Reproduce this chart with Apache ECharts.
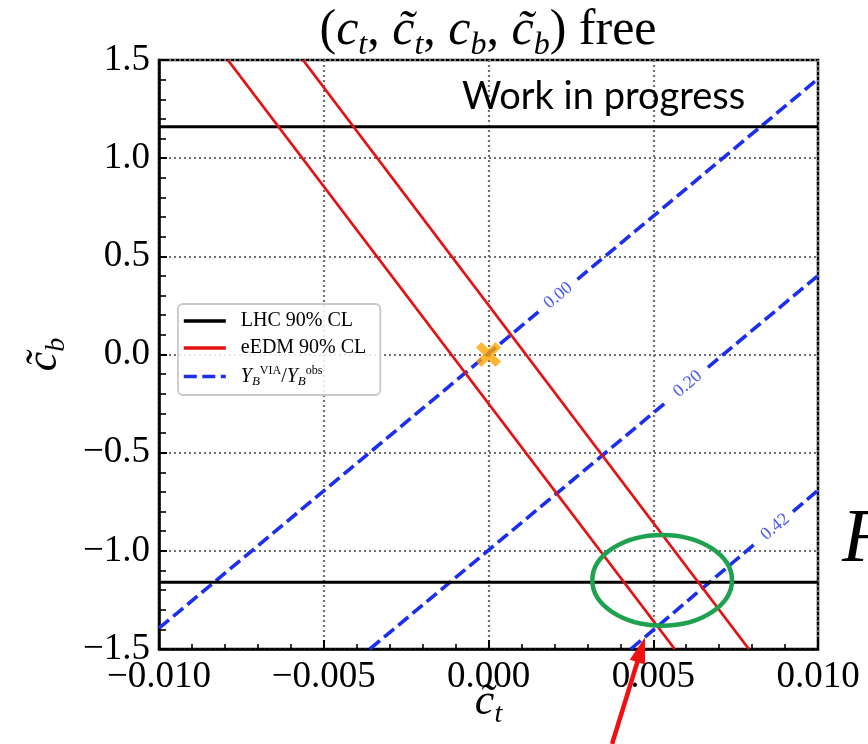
<!DOCTYPE html>
<html><head><meta charset="utf-8">
<script src="https://cdn.jsdelivr.net/npm/echarts@6/dist/echarts.min.js"></script>
<style>html,body{margin:0;padding:0;background:#fff}#c{width:868px;height:744px}</style>
</head><body><div id="c"></div>
<script>
// ---- data ----
const xRange = [-0.01, 0.01];
const yRange = [-1.5, 1.5];
const xInterval = 0.005;
const yInterval = 0.5;
const lhcLevels = [1.16, -1.16];
const eedmLine1 = [[-0.00791, 1.5], [0.00565, -1.5]];
const eedmLine2 = [[-0.00563, 1.5], [0.00790, -1.5]];
// Y_B ratio contours, each split where its in-line label sits
const contour000 = [[[-0.01, -1.394], [0.00155, 0.222]], [[0.0027, 0.383], [0.01, 1.404]]];
const contour020 = [[[-0.0036, -1.5], [0.00545, -0.235]], [[0.00666, -0.065], [0.01, 0.402]]];
const contour042 = [[[0.00432, -1.5], [0.00815, -0.955]], [[0.00924, -0.800], [0.01, -0.692]]];
const contourLabels = [[0.00212, 0.30, '0.00'], [0.00605, -0.15, '0.20'], [0.0087, -0.878, '0.42']];
const smPoint = [[0, 0]];
const ellipseCenter = [0.00527, -1.15];
const ellipseRadii = [0.00212, 0.231];
const arrowTail = [0.00375, -1.984];
const arrowTip = [0.00475, -1.44];
const legendNames = ['LHC 90% CL', 'eEDM 90% CL', 'YB'];

const RED = '#e41212', BLUE = '#1c2ef0', SERIF = 'Liberation Serif';
const X_PATH = 'path://M0,2.2 L2.2,0 L5,2.8 L7.8,0 L10,2.2 L7.2,5 L10,7.8 L7.8,10 L5,7.2 L2.2,10 L0,7.8 L2.8,5 Z';

function fmt(v, d) {
  if (Math.abs(v) < 1e-12) v = 0;
  return (v < 0 ? '\u2212' : '') + Math.abs(v).toFixed(d);
}

const series = [];
lhcLevels.forEach(v => series.push({
  type: 'line', name: legendNames[0], data: [[xRange[0], v], [xRange[1], v]], symbol: 'none',
  lineStyle: { color: '#000', width: 3 }, itemStyle: { color: '#000' }, z: 3
}));
[eedmLine1, eedmLine2].forEach(seg => series.push({
  type: 'line', name: legendNames[1], data: seg, symbol: 'none',
  lineStyle: { color: RED, width: 2.8 }, itemStyle: { color: RED }, z: 4
}));
[contour000, contour020, contour042].forEach(c => c.forEach(seg => series.push({
  type: 'line', name: legendNames[2], data: seg, symbol: 'none',
  lineStyle: { color: BLUE, width: 3.6, type: [13, 5.5] }, itemStyle: { color: BLUE }, z: 2
})));
series.push({
  type: 'scatter', data: contourLabels, symbolSize: 0, silent: true, z: 5,
  label: { show: true, position: 'inside', formatter: p => p.value[2], rotate: 40,
    color: BLUE, fontSize: 18, fontFamily: SERIF }
});
series.push({
  type: 'scatter', data: smPoint, symbol: X_PATH, symbolSize: 25, z: 6,
  itemStyle: { color: '#ffa500' }
});

const nameRich = {
  i: { fontSize: 44, fontFamily: SERIF, fontStyle: 'italic', color: '#000', lineHeight: 54 },
  s: { fontSize: 28, fontFamily: SERIF, fontStyle: 'italic', color: '#000', lineHeight: 28, verticalAlign: 'bottom' }
};

const chart = echarts.init(document.getElementById('c'), null, { renderer: 'canvas' });
const option = {
  animation: false,
  backgroundColor: '#fff',
  grid: { left: 159, top: 60, width: 659, height: 589, show: true, borderColor: '#000', borderWidth: 2.5,
    containLabel: false, outerBoundsMode: 'none' },
  xAxis: {
    type: 'value', min: xRange[0], max: xRange[1], interval: xInterval,
    axisLine: { show: true, onZero: false, lineStyle: { color: '#000', width: 2.5 } },
    axisTick: { show: true, inside: true, length: 9, lineStyle: { color: '#000', width: 2 } },
    minorTick: { show: true, splitNumber: 5, length: 5, lineStyle: { color: '#000', width: 1.6 } },
    splitLine: { show: true, lineStyle: { color: '#707070', width: 2.2, type: [2, 3] } },
    axisLabel: { formatter: v => fmt(v, 3), fontSize: 37, fontFamily: SERIF, color: '#000', margin: 10,
      showMinLabel: true, showMaxLabel: true },
    name: '{i|c\u0303}{s|t}', nameLocation: 'middle', nameGap: 26, nameMoveOverlap: false,
    nameTextStyle: { rich: nameRich }
  },
  yAxis: {
    type: 'value', min: yRange[0], max: yRange[1], interval: yInterval,
    axisLine: { show: true, onZero: false, lineStyle: { color: '#000', width: 2.5 } },
    axisTick: { show: true, inside: true, length: 8, lineStyle: { color: '#000', width: 2 } },
    minorTick: { show: true, splitNumber: 5, length: 7, lineStyle: { color: '#000', width: 1.6 } },
    splitLine: { show: true, lineStyle: { color: '#707070', width: 2.2, type: [2, 3] } },
    axisLabel: { formatter: v => fmt(v, 1), fontSize: 37, fontFamily: SERIF, color: '#000', margin: 9,
      showMinLabel: true, showMaxLabel: true },
    name: '{i|c\u0303}{s|b}', nameLocation: 'middle', nameGap: 88, nameRotate: 90, nameMoveOverlap: false,
    nameTextStyle: { rich: nameRich }
  },
  legend: {
    data: legendNames, orient: 'vertical', left: 178, top: 304, selectedMode: false,
    itemWidth: 42, itemHeight: 14, itemGap: 7, padding: [7, 14, 7, 4],
    itemStyle: { opacity: 0 }, lineStyle: { width: 3.6 },
    borderColor: '#c8c8c8', borderWidth: 1.8, borderRadius: 5, backgroundColor: 'rgba(255,255,255,0.85)',
    formatter: n => n === 'YB' ? '{it|Y}{sub|B}{sup|VIA}{n|/}{it|Y}{sub|B}{sup|obs}' : '{n|' + n + '}',
    textStyle: {
      padding: [0, 0, 0, 10],
      rich: {
        n: { fontSize: 20, fontFamily: SERIF, color: '#000', lineHeight: 23 },
        it: { fontSize: 20, fontFamily: SERIF, fontStyle: 'italic', color: '#000', lineHeight: 23 },
        sub: { fontSize: 13, fontFamily: SERIF, fontStyle: 'italic', color: '#000', lineHeight: 12, verticalAlign: 'bottom' },
        sup: { fontSize: 12, fontFamily: SERIF, color: '#000', lineHeight: 12, verticalAlign: 'top' }
      }
    }
  },
  series: series
};
chart.setOption(option);

// annotations placed through the grid's coordinate system
const P = v => chart.convertToPixel({ gridIndex: 0 }, v);
const c0 = P(ellipseCenter);
const cR = P([ellipseCenter[0] + ellipseRadii[0], ellipseCenter[1] + ellipseRadii[1]]);
const tip = P(arrowTip), tail = P(arrowTail);
const dx = tip[0] - tail[0], dy = tip[1] - tail[1], L = Math.hypot(dx, dy);
const ux = dx / L, uy = dy / L, headLen = 26, headHalf = 8;
const bx = tip[0] - ux * headLen, by = tip[1] - uy * headLen;

const titleRich = {
  p: { fontSize: 50, fontFamily: SERIF, fill: '#000', color: '#000', lineHeight: 62 },
  i: { fontSize: 50, fontFamily: SERIF, fontStyle: 'italic', fill: '#000', color: '#000', lineHeight: 62 },
  s: { fontSize: 32, fontFamily: SERIF, fontStyle: 'italic', fill: '#000', color: '#000', lineHeight: 32, verticalAlign: 'bottom' }
};

chart.setOption({
  graphic: [
    { type: 'text', x: 488, y: 31, z: 10,
      style: { text: '{p|(}{i|c}{s|t}{p|, }{i|c\u0303}{s|t}{p|, }{i|c}{s|b}{p|, }{i|c\u0303}{s|b}{p|) free}',
        rich: titleRich, align: 'center', verticalAlign: 'middle' } },
    { type: 'text', x: 462, y: 97, z: 10,
      style: { text: 'Work in progress', fontSize: 38, fontFamily: 'Lato', fill: '#000', align: 'left', verticalAlign: 'middle' } },
    { type: 'ellipse', z: 20, shape: { cx: c0[0], cy: c0[1], rx: cR[0] - c0[0], ry: c0[1] - cR[1] },
      style: { fill: 'none', stroke: '#1fa24f', lineWidth: 4.5 } },
    { type: 'line', z: 20, shape: { x1: tail[0], y1: tail[1], x2: bx + ux * 4, y2: by + uy * 4 },
      style: { stroke: '#f01010', lineWidth: 4.5 } },
    { type: 'polygon', z: 20, shape: { points: [tip, [bx - uy * headHalf, by + ux * headHalf], [bx + uy * headHalf, by - ux * headHalf]] },
      style: { fill: '#f01010' } },
    { type: 'text', x: 842, y: 541, z: 10,
      style: { text: 'F', fontSize: 76, fontFamily: SERIF, fontStyle: 'italic', fill: '#000', align: 'left', verticalAlign: 'middle' } }
  ]
});
</script></body></html>
